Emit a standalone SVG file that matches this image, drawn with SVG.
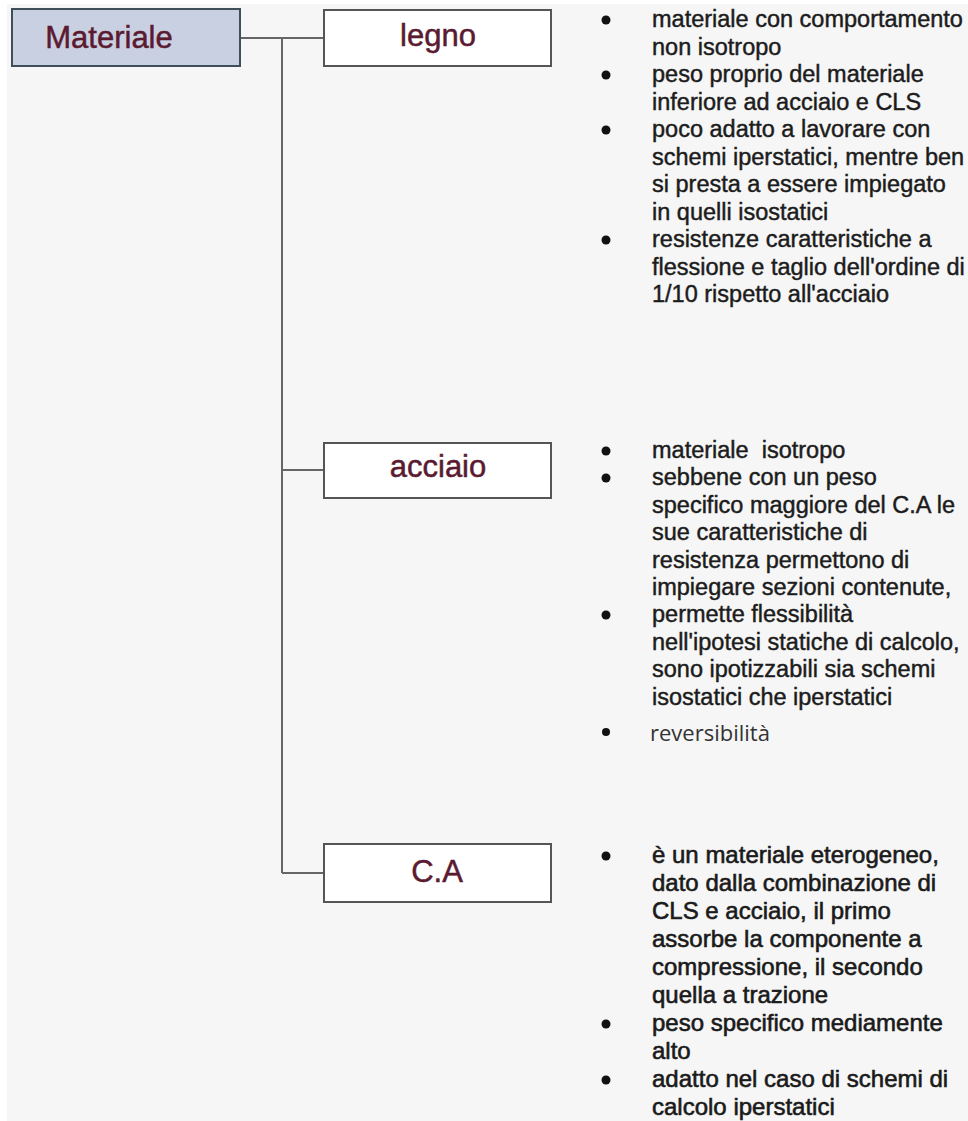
<svg xmlns="http://www.w3.org/2000/svg" width="968" height="1121" viewBox="0 0 968 1121">
  <style>
    .box { fill: #ffffff; stroke: #555555; stroke-width: 2; }
    .root { fill: #c9d0e1; stroke: #3e4f5a; stroke-width: 2; }
    .label { font-family: "Liberation Sans", Arial, sans-serif; font-size: 31px; fill: #5a1a30; stroke: #5a1a30; stroke-width: 0.5; text-anchor: middle; }
    .txt { font-family: "Liberation Sans", Arial, sans-serif; font-size: 23.5px; fill: #1c1c1c; stroke: #1c1c1c; stroke-width: 0.45; white-space: pre; }
    .txt2 { font-family: "Liberation Sans", Arial, sans-serif; font-size: 24px; fill: #1a1a1a; stroke: #1a1a1a; stroke-width: 0.6; }
    .plain { font-family: "Open Sans", "Noto Sans", sans-serif; font-size: 22px; fill: #333333; }
    .dot { fill: #111111; }
    .link { fill: none; stroke: #666666; stroke-width: 2; }
  </style>

  <rect x="0" y="0" width="968" height="1121" fill="#ffffff"/>
  <rect x="7" y="4" width="961" height="1117" fill="#f6f6f6"/>

  <!-- connectors -->
  <g id="connectors">
    <path class="link" d="M240 38 H324" stroke="#5d7a85"/>
    <path class="link" d="M282 38 V873"/>
    <path class="link" d="M282 470 H324"/>
    <path class="link" d="M282 873 H324"/>
  </g>

  <!-- root node -->
  <g id="node-materiale">
    <rect class="root" x="12" y="9" width="228" height="57"/>
    <text class="label" x="109" y="48">Materiale</text>
  </g>

  <!-- legno -->
  <g id="node-legno">
    <rect class="box" x="324" y="10" width="227" height="56"/>
    <text class="label" x="438" y="46">legno</text>
  </g>
  <g id="notes-legno">
    <circle class="dot" cx="606" cy="20" r="4.5"/>
    <circle class="dot" cx="606" cy="75" r="4.5"/>
    <circle class="dot" cx="606" cy="130" r="4.5"/>
    <circle class="dot" cx="606" cy="240" r="4.5"/>
    <text class="txt" x="652" y="27">materiale con comportamento</text>
    <text class="txt" x="652" y="54.5">non isotropo</text>
    <text class="txt" x="652" y="82">peso proprio del materiale</text>
    <text class="txt" x="652" y="109.5">inferiore ad acciaio e CLS</text>
    <text class="txt" x="652" y="137">poco adatto a lavorare con</text>
    <text class="txt" x="652" y="164.5">schemi iperstatici, mentre ben</text>
    <text class="txt" x="652" y="192">si presta a essere impiegato</text>
    <text class="txt" x="652" y="219.5">in quelli isostatici</text>
    <text class="txt" x="652" y="247">resistenze caratteristiche a</text>
    <text class="txt" x="652" y="274.5">flessione e taglio dell'ordine di</text>
    <text class="txt" x="652" y="302">1/10 rispetto all'acciaio</text>
  </g>

  <!-- acciaio -->
  <g id="node-acciaio">
    <rect class="box" x="324" y="443" width="227" height="55"/>
    <text class="label" x="438" y="477">acciaio</text>
  </g>
  <g id="notes-acciaio">
    <circle class="dot" cx="606" cy="451" r="4.5"/>
    <circle class="dot" cx="606" cy="478" r="4.5"/>
    <circle class="dot" cx="606" cy="615" r="4.5"/>
    <circle class="dot" cx="606" cy="732" r="4"/>
    <text class="txt" x="652" y="458">materiale  isotropo</text>
    <text class="txt" x="652" y="485.4">sebbene con un peso</text>
    <text class="txt" x="652" y="512.8">specifico maggiore del C.A le</text>
    <text class="txt" x="652" y="540.2">sue caratteristiche di</text>
    <text class="txt" x="652" y="567.6">resistenza permettono di</text>
    <text class="txt" x="652" y="595">impiegare sezioni contenute,</text>
    <text class="txt" x="652" y="622.4">permette flessibilità</text>
    <text class="txt" x="652" y="649.8">nell'ipotesi statiche di calcolo,</text>
    <text class="txt" x="652" y="677.2">sono ipotizzabili sia schemi</text>
    <text class="txt" x="652" y="704.6">isostatici che iperstatici</text>
    <text class="plain" x="650" y="741">reversibilità</text>
  </g>

  <!-- C.A -->
  <g id="node-ca">
    <rect class="box" x="324" y="844" width="227" height="58"/>
    <text class="label" x="437" y="882">C.A</text>
  </g>
  <g id="notes-ca">
    <circle class="dot" cx="606" cy="856" r="4.5"/>
    <circle class="dot" cx="606" cy="1024" r="4.5"/>
    <circle class="dot" cx="606" cy="1080" r="4.5"/>
    <text class="txt2" x="652" y="863">è un materiale eterogeneo,</text>
    <text class="txt2" x="652" y="891">dato dalla combinazione di</text>
    <text class="txt2" x="652" y="919">CLS e acciaio, il primo</text>
    <text class="txt2" x="652" y="947">assorbe la componente a</text>
    <text class="txt2" x="652" y="975">compressione, il secondo</text>
    <text class="txt2" x="652" y="1003">quella a trazione</text>
    <text class="txt2" x="652" y="1031">peso specifico mediamente</text>
    <text class="txt2" x="652" y="1059">alto</text>
    <text class="txt2" x="652" y="1087">adatto nel caso di schemi di</text>
    <text class="txt2" x="652" y="1115">calcolo iperstatici</text>
  </g>
</svg>
